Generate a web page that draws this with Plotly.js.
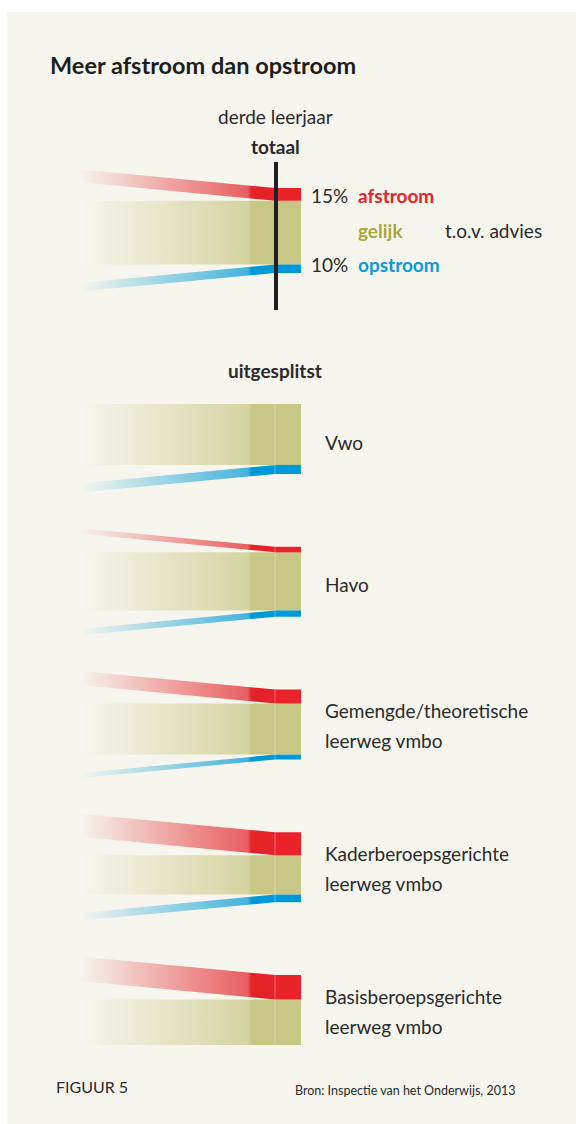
<!DOCTYPE html>
<html>
<head>
<meta charset="utf-8">
<script src="https://cdn.plot.ly/plotly-3.0.1.min.js"></script>
<style>
html,body{margin:0;padding:0;background:#ffffff;overflow:hidden;}
#chart{width:576px;height:1124px;}
</style>
</head>
<body>
<div id="chart"></div>
<script>
// ---- data (percentages, t.o.v. advies) ----
const groups = ['totaal', 'Vwo', 'Havo', 'Gemengde/theoretische', 'Kaderberoepsgerichte', 'Basisberoepsgerichte'];
const groupLine2 = ['', '', '', 'leerweg vmbo', 'leerweg vmbo', 'leerweg vmbo'];
const afstroom = [15, 0, 8, 20, 33, 35];
const opstroom = [10, 13, 9, 7, 11, 0];
const gelijk = groups.map((g, i) => 100 - afstroom[i] - opstroom[i]);

// ---- layout constants (page pixel space) ----
const W = 576, H = 1124;
const X_FADE = 80, X_JOIN = 275, X_END = 301;
const SHIFT = 18.5;
const tops = [188, 404, 546.75, 689.5, 832.25, 975];
const scales = [0.85, 0.7, 0.7, 0.7, 0.7, 0.7];

const RED = '#e42329', OLIVE = '#c9c785', BLUE = '#0099d8';
const rgba = (hex, a) => {
  const n = parseInt(hex.slice(1), 16);
  return `rgba(${(n >> 16) & 255},${(n >> 8) & 255},${n & 255},${a})`;
};
const grad = (hex) => ({
  type: 'horizontal', start: X_FADE, stop: X_JOIN,
  colorscale: [[0, rgba(hex, 0)], [0.12, rgba(hex, 0.1)], [0.86, rgba(hex, 0.72)], [0.88, rgba(hex, 1)], [1, rgba(hex, 1)]]
});

const traces = [];
const shapes = [];
const annotations = [];
const font = 'Lato, "Open Sans", sans-serif';
const DARK = '#2a2a2a';
const FS = 19;

function poly(xs, ys, hex, gradient) {
  const t = {
    type: 'scatter', mode: 'lines', x: xs, y: ys, fill: 'toself',
    line: {width: 0, color: rgba(hex, 0)}, hoverinfo: 'skip', showlegend: false
  };
  if (gradient) t.fillgradient = grad(hex); else t.fillcolor = hex;
  traces.push(t);
}

groups.forEach((g, i) => {
  const s = scales[i];
  const y0 = tops[i];
  const hR = afstroom[i] * s, hG = gelijk[i] * s, hB = opstroom[i] * s;
  const yG = y0 + hR, yB = yG + hG, yEnd = yB + hB;
  // flows
  poly([X_FADE, X_JOIN, X_JOIN, X_FADE], [yG, yG, yB, yB], OLIVE, true);
  if (hR > 0) poly([X_FADE, X_JOIN, X_JOIN, X_FADE], [y0 - SHIFT, y0, yG, yG - SHIFT], RED, true);
  if (hB > 0) poly([X_FADE, X_JOIN, X_JOIN, X_FADE], [yB + SHIFT, yB, yEnd, yEnd + SHIFT], BLUE, true);
  // blocks (third year)
  poly([X_JOIN, X_END, X_END, X_JOIN], [yG, yG, yB, yB], OLIVE, false);
  if (hR > 0) poly([X_JOIN, X_END, X_END, X_JOIN], [y0, y0, yG, yG], '#e8232a', false);
  if (hB > 0) poly([X_JOIN, X_END, X_END, X_JOIN], [yB, yB, yEnd, yEnd], BLUE, false);

  if (i === 0) {
    shapes.push({type: 'line', xref: 'x', yref: 'y', x0: 276, x1: 276, y0: 162, y1: 310,
      line: {color: '#1f1f1f', width: 4}, layer: 'above'});
    const txt = (x, y, t, c, b, anchor) => annotations.push({x: x, y: y, xref: 'x', yref: 'y', text: b ? '<b>' + t + '</b>' : t,
      showarrow: false, xanchor: anchor || 'left', yanchor: 'middle', font: {family: font, size: FS, color: c}});
    txt(309, y0 + hR / 2 + 1, afstroom[i] + '%', DARK, false);
    txt(356, y0 + hR / 2 + 1, 'afstroom', RED, true);
    txt(356, yG + hG / 2 - 2, 'gelijk', '#a9a83a', true);
    txt(443, yG + hG / 2 - 2, 't.o.v. advies', DARK, false);
    txt(309, yB + hB / 2 - 4, opstroom[i] + '%', DARK, false);
    txt(356, yB + hB / 2 - 4, 'opstroom', '#0b9ad6', true);
  } else {
    shapes.push({type: 'line', xref: 'x', yref: 'y', x0: X_JOIN, x1: X_JOIN, y0: y0, y1: yEnd,
      line: {color: 'rgba(255,255,255,0.35)', width: 1}, layer: 'above'});
    const mid = (y0 + yEnd) / 2 + 1;
    const lines = groupLine2[i] ? [groups[i], groupLine2[i]] : [groups[i]];
    lines.forEach((t, k) => {
      const y = lines.length === 1 ? mid + 2 : mid - 15 + 30 * k;
      annotations.push({x: 323, y: y, xref: 'x', yref: 'y', text: t, showarrow: false,
        xanchor: 'left', yanchor: 'middle', font: {family: font, size: FS, color: DARK}});
    });
  }
});

// panel background
shapes.unshift({type: 'rect', xref: 'x', yref: 'y', x0: 7, x1: W, y0: 12, y1: H,
  fillcolor: '#f6f6ee', line: {width: 0}, layer: 'below'});

const ann = (x, y, t, size, anchor, extra) => annotations.push(Object.assign({x: x, y: y, xref: 'x', yref: 'y', text: t,
  showarrow: false, xanchor: anchor, yanchor: 'middle', font: {family: font, size: size, color: DARK}}, extra || {}));
ann(275, 116, 'derde leerjaar', FS, 'center');
ann(275, 146, '<b>totaal</b>', FS, 'center');
ann(275, 370, '<b>uitgesplitst</b>', FS, 'center');
ann(54, 1086, 'FIGUUR 5', 16, 'left');
ann(293, 1090, 'Bron: Inspectie van het Onderwijs, 2013', 12.5, 'left');

const layout = {
  width: W, height: H,
  margin: {l: 0, r: 0, t: 0, b: 0, pad: 0},
  paper_bgcolor: '#ffffff', plot_bgcolor: 'rgba(0,0,0,0)',
  title: {text: '<b>Meer afstroom dan opstroom</b>', x: 50 / W, xanchor: 'left', y: 1 - 66 / H, yanchor: 'middle',
    font: {family: font, size: 23.5, color: '#1e1e1e'}},
  xaxis: {range: [0, W], visible: false, fixedrange: true},
  yaxis: {range: [H, 0], visible: false, fixedrange: true},
  shapes: shapes,
  annotations: annotations,
  showlegend: false
};

Plotly.newPlot('chart', traces, layout, {staticPlot: true, displayModeBar: false});
</script>
</body>
</html>
